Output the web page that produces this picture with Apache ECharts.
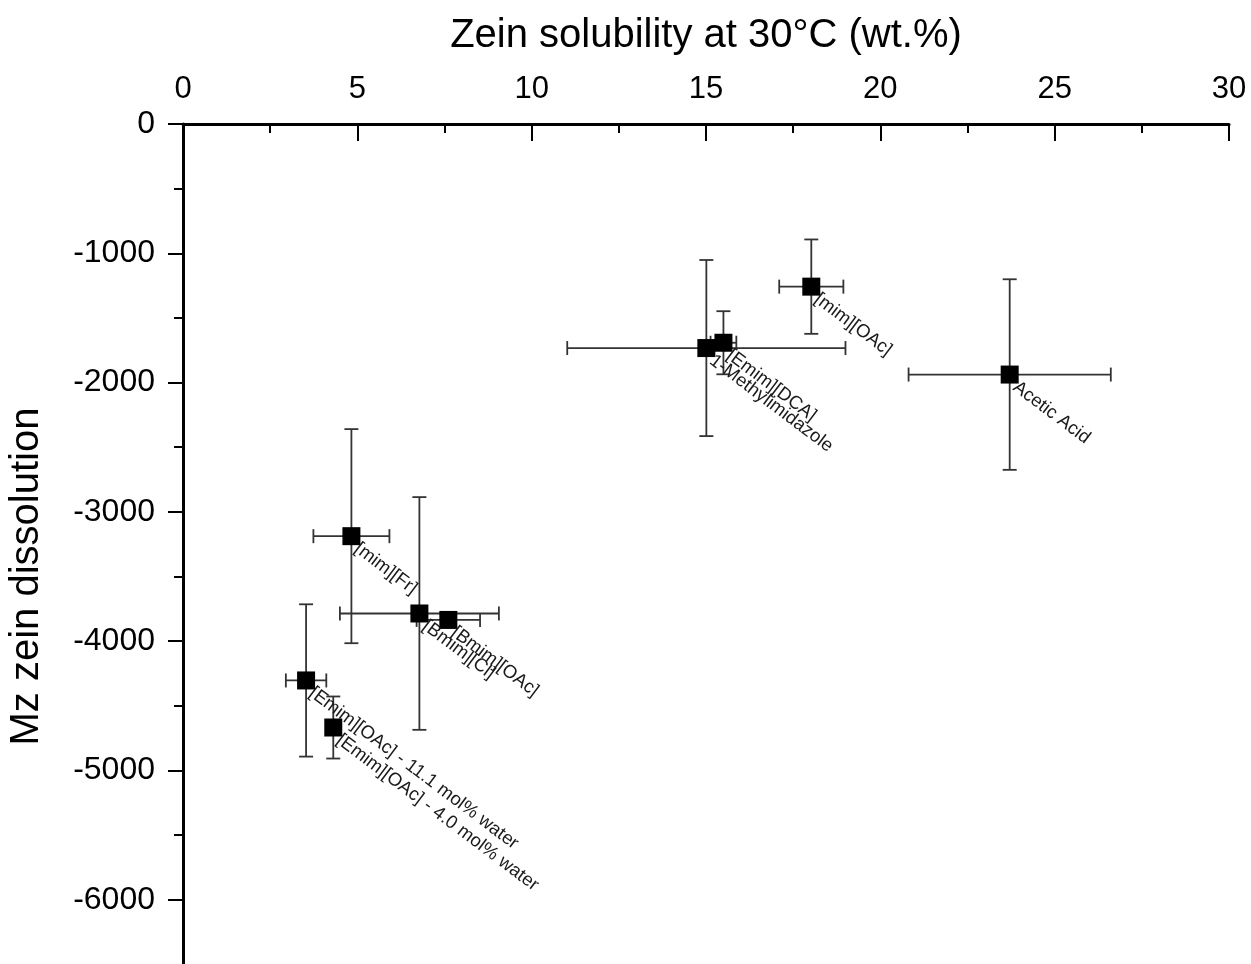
<!DOCTYPE html>
<html>
<head>
<meta charset="utf-8">
<script src="https://cdn.jsdelivr.net/npm/echarts@6/dist/echarts.min.js"></script>
<style>
html,body{margin:0;padding:0;background:#fff;overflow:hidden;width:1251px;height:964px;}
#chart{width:1251px;height:1030px;}
</style>
</head>
<body>
<div id="chart"></div>
<script>
const names = ['[mim][OAc]', 'Acetic Acid', '1-Methylimidazole', '[Emim][DCA]', '[mim][Fr]', '[Bmim][Cl]', '[Bmim][OAc]', '[Emim][OAc] - 11.1 mol% water', '[Emim][OAc] - 4.0 mol% water'];
const solubility = [18.02, 23.71, 15.01, 15.5, 4.83, 6.78, 7.61, 3.53, 4.31];
const solubilityErr = [0.92, 2.9, 3.99, 0.37, 1.09, 2.28, 0.91, 0.58, 0.2];
const mz = [-1258, -1938, -1733, -1692, -3188, -3786, -3836, -4304, -4668];
const mzErr = [365, 737, 681, 244, 828, 900, 50, 589, 240];

const xTitle = 'Zein solubility at 30°C (wt.%)';
const yTitle = 'Mz zein dissolution';

const FONT = '"Liberation Sans", Arial, sans-serif';

const points = names.map((n, i) => [solubility[i], mz[i], solubilityErr[i], mzErr[i], n]);

const chart = echarts.init(document.getElementById('chart'), null, {renderer: 'canvas', width: 1251, height: 1030});

const option = {
  animation: false,
  backgroundColor: '#fff',
  grid: {left: 183, right: 22, top: 124, bottom: 1, containLabel: false, outerBoundsMode: 'none'},
  xAxis: {
    type: 'value', position: 'top', min: 0, max: 30, interval: 5,
    name: xTitle, nameLocation: 'middle', nameGap: 68,
    nameTextStyle: {fontSize: 40, color: '#000', fontFamily: FONT},
    axisLine: {show: true, onZero: false, lineStyle: {color: '#000', width: 3}},
    axisTick: {show: true, inside: true, length: 17, lineStyle: {color: '#000', width: 2}},
    minorTick: {show: true, splitNumber: 2, length: 9, lineStyle: {color: '#000', width: 2}},
    axisLabel: {fontSize: 31, color: '#000', margin: 19, fontFamily: FONT},
    splitLine: {show: false}
  },
  yAxis: {
    type: 'value', min: -7000, max: 0, interval: 1000,
    name: yTitle, nameLocation: 'middle', nameGap: 136, nameRotate: 90,
    nameTextStyle: {fontSize: 40, color: '#000', fontFamily: FONT},
    axisLine: {show: true, onZero: false, lineStyle: {color: '#000', width: 3}},
    axisTick: {show: true, inside: false, length: 15, lineStyle: {color: '#000', width: 2}},
    minorTick: {show: true, splitNumber: 2, length: 9, lineStyle: {color: '#000', width: 2}},
    axisLabel: {fontSize: 32, color: '#000', margin: 28, fontFamily: FONT, formatter: v => (v <= -7000 ? '' : String(v))},
    splitLine: {show: false}
  },
  series: [
    {
      type: 'custom',
      data: points,
      z: 2,
      renderItem: function (params, api) {
        const x = api.value(0), y = api.value(1), ex = api.value(2), ey = api.value(3);
        const l = api.coord([x - ex, y]);
        const r = api.coord([x + ex, y]);
        const t = api.coord([x, y + ey]);
        const b = api.coord([x, y - ey]);
        const cap = 7;
        const st = {stroke: '#333', lineWidth: 1.8, fill: null};
        const children = [];
        if (ex > 0) {
          children.push({type: 'line', shape: {x1: l[0], y1: l[1], x2: r[0], y2: r[1]}, style: st});
          children.push({type: 'line', shape: {x1: l[0], y1: l[1] - cap, x2: l[0], y2: l[1] + cap}, style: st});
          children.push({type: 'line', shape: {x1: r[0], y1: r[1] - cap, x2: r[0], y2: r[1] + cap}, style: st});
        }
        if (ey > 0) {
          children.push({type: 'line', shape: {x1: t[0], y1: t[1], x2: b[0], y2: b[1]}, style: st});
          children.push({type: 'line', shape: {x1: t[0] - cap, y1: t[1], x2: t[0] + cap, y2: t[1]}, style: st});
          children.push({type: 'line', shape: {x1: b[0] - cap, y1: b[1], x2: b[0] + cap, y2: b[1]}, style: st});
        }
        return {type: 'group', children: children};
      }
    },
    {
      type: 'scatter',
      data: points,
      z: 3,
      symbol: 'rect',
      symbolSize: 18,
      itemStyle: {color: '#000', opacity: 1},
      label: {
        show: true,
        formatter: p => p.data[4],
        position: [20, 12],
        align: 'left',
        verticalAlign: 'top',
        rotate: -37,
        fontSize: 18.5,
        color: '#1a1a1a',
        opacity: 1,
        fontFamily: FONT
      }
    }
  ]
};
chart.setOption(option);
</script>
</body>
</html>
